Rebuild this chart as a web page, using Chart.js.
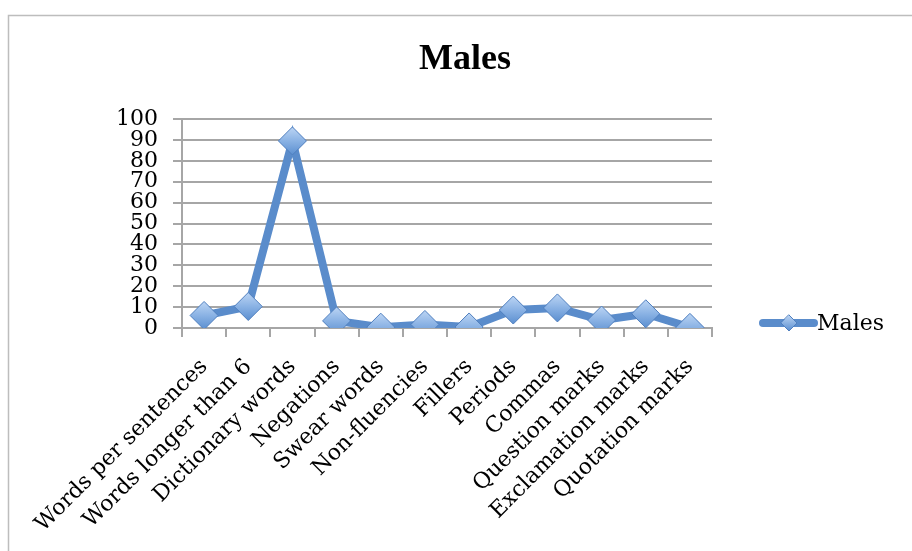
<!DOCTYPE html>
<html>
<head>
<meta charset="utf-8">
<script src="https://cdn.jsdelivr.net/npm/chart.js@4.4.1/dist/chart.umd.min.js"></script>
<style>
  html, body { margin: 0; padding: 0; background: #ffffff; }
  #wrap { position: relative; width: 912px; height: 551px; }
</style>
</head>
<body>
<div id="wrap"><canvas id="c" width="912" height="551"></canvas></div>
<script>
// Text-feature counts for the male group
const categories = [
  'Words per sentences', 'Words longer than 6', 'Dictionary words', 'Negations',
  'Swear words', 'Non-fluencies', 'Fillers', 'Periods', 'Commas',
  'Question marks', 'Exclamation marks', 'Quotation marks'
];
const malesValues = [6, 10.3, 89.5, 3.4, 0.4, 1.7, 0.5, 8.6, 9.6, 3.8, 6.8, 0.3];
const yTicks = [0, 10, 20, 30, 40, 50, 60, 70, 80, 90, 100];
const seriesName = 'Males';
const chartTitle = 'Males';

const LINE = '#5a8ccb';
const FONT = '"DejaVu Serif", serif';

// diamond fill with a soft top-to-bottom gradient
function diamondFill(ctx) {
  const chart = ctx.chart;
  const y = chart.scales && chart.scales.y;
  if (!y || !ctx.parsed) return '#8fb6e6';
  const py = y.getPixelForValue(ctx.parsed.y);
  if (!isFinite(py)) return '#8fb6e6';
  const g = chart.ctx.createLinearGradient(0, py - 14, 0, py + 14);
  g.addColorStop(0, '#bcd5f4');
  g.addColorStop(0.5, '#8ab2e4');
  g.addColorStop(1, '#5b8fd0');
  return g;
}

const decor = {
  id: 'decor',
  beforeDraw(chart) {
    const c = chart.ctx;
    c.save();
    c.fillStyle = '#ffffff';
    c.fillRect(0, 0, chart.width, chart.height);
    c.strokeStyle = '#bdbdbd';
    c.lineWidth = 1.5;
    c.strokeRect(8.5, 15.5, 1200, 1200);
    c.restore();
  },
  afterDraw(chart) {
    const c = chart.ctx;
    c.save();
    // title
    c.fillStyle = '#000000';
    c.font = 'bold 36px "Liberation Serif", serif';
    c.textAlign = 'center';
    c.textBaseline = 'middle';
    c.fillText(chartTitle, 465, 60);
    // legend
    const ly = 323;
    c.strokeStyle = LINE;
    c.lineWidth = 8;
    c.lineCap = 'round';
    c.beginPath();
    c.moveTo(763, ly);
    c.lineTo(814, ly);
    c.stroke();
    const g = c.createLinearGradient(0, ly - 8, 0, ly + 8);
    g.addColorStop(0, '#bcd5f4');
    g.addColorStop(1, '#5b8fd0');
    c.fillStyle = g;
    c.strokeStyle = '#4f7fbf';
    c.lineWidth = 1;
    c.beginPath();
    c.moveTo(789, ly - 8);
    c.lineTo(797, ly);
    c.lineTo(789, ly + 8);
    c.lineTo(781, ly);
    c.closePath();
    c.fill();
    c.stroke();
    c.fillStyle = '#000000';
    c.font = '22px ' + FONT;
    c.textAlign = 'left';
    c.fillText(seriesName, 817, ly + 1);
    c.restore();
  }
};

new Chart(document.getElementById('c'), {
  type: 'line',
  data: {
    labels: categories,
    datasets: [{
      label: seriesName,
      data: malesValues,
      borderColor: LINE,
      borderWidth: 8,
      tension: 0,
      pointStyle: 'rectRot',
      pointRadius: 14,
      pointHoverRadius: 14,
      pointBorderWidth: 1,
      pointBorderColor: '#4f7fbf',
      pointBackgroundColor: diamondFill
    }]
  },
  options: {
    responsive: false,
    animation: false,
    events: [],
    layout: { padding: { left: 0, top: 119, right: 200, bottom: 0 } },
    plugins: {
      legend: { display: false },
      title: { display: false },
      tooltip: { enabled: false }
    },
    scales: {
      x: {
        offset: true,
        grid: {
          offset: true,
          drawOnChartArea: false,
          drawTicks: true,
          tickLength: 9,
          color: '#a6a6a6',
          lineWidth: 2
        },
        border: { display: true, color: '#a6a6a6', width: 2 },
        ticks: {
          autoSkip: false,
          minRotation: 45,
          maxRotation: 45,
          color: '#000000',
          padding: 17,
          font: { family: FONT, size: 22 }
        },
        afterFit(scale) { scale.height = 551 - 328; }
      },
      y: {
        min: 0,
        max: 100,
        afterBuildTicks(scale) { scale.ticks = yTicks.map(v => ({ value: v })); },
        grid: {
          color: '#a6a6a6',
          lineWidth: 2,
          drawTicks: true,
          tickLength: 9
        },
        border: { display: true, color: '#a6a6a6', width: 2 },
        ticks: {
          autoSkip: false,
          color: '#000000',
          padding: 15,
          font: { family: FONT, size: 22, lineHeight: 1 }
        },
        afterFit(scale) { scale.width = 182; }
      }
    }
  },
  plugins: [decor]
});
</script>
</body>
</html>
